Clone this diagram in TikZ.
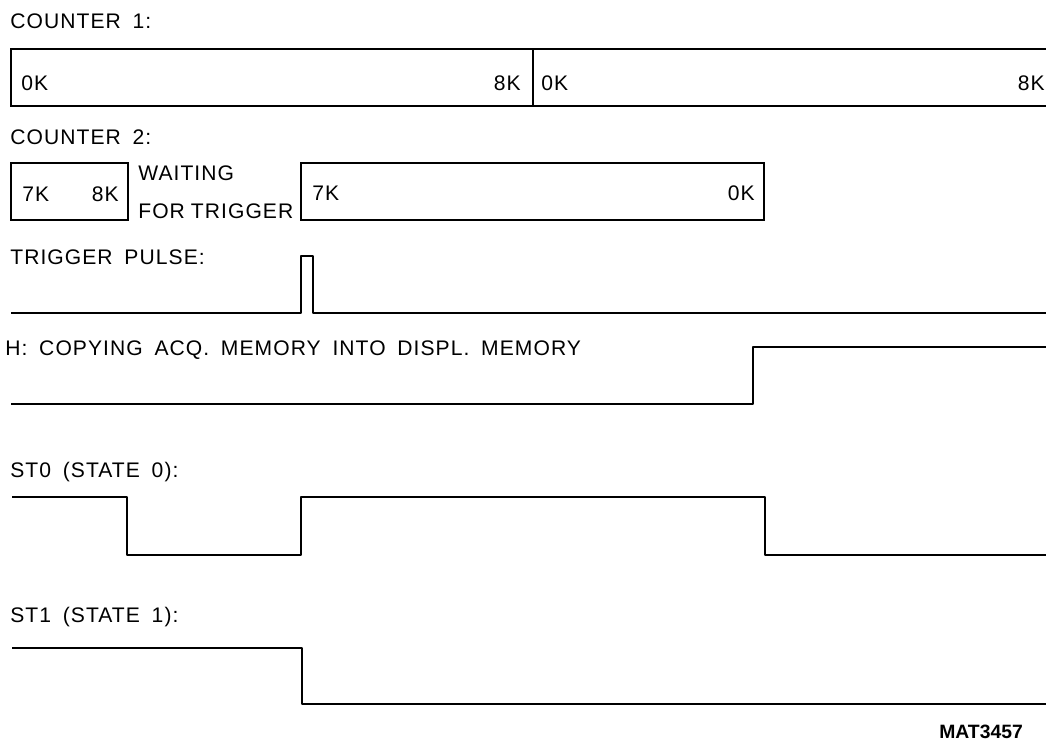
\documentclass[tikz,border=0pt]{standalone}
\usepackage{fontspec}
\setmainfont{Liberation Sans}[LetterSpace=5, WordSpace=1.7]
\usetikzlibrary{positioning}

\begin{document}
\begin{tikzpicture}[
  x=0.02cm, y=-0.02cm,
  lbl/.style={anchor=west, inner sep=0pt, font=\fontsize{12}{14}\selectfont},
  rlbl/.style={lbl, anchor=east},
  sig/.style={line width=1.4pt, line join=round},
  cbox/.style={line width=1.4pt}
]
\useasboundingbox (0,0) rectangle (1046,740);

% counter 1
\node[lbl] (c1lbl) at (10,21) {COUNTER 1:};
\draw[cbox] (1050,49) -| (11,106) -- (1050,106);
\draw[cbox] (533,49) -- (533,106);
\node[lbl]  (c1a) at (21,83)   {0K};
\node[rlbl] (c1b) at (521,83)  {8K};
\node[lbl]  (c1c) at (541,83)  {0K};
\node[rlbl] (c1d) at (1045,83) {8K};

% counter 2
\node[lbl] (c2lbl) at (10,137) {COUNTER 2:};
\draw[cbox] (11,163) rectangle (128,220);
\node[lbl]  (c2a) at (22,194)  {7K};
\node[rlbl] (c2b) at (119,194) {8K};
\node[lbl] (wait1) at (138,173) {WAITING};
\node[lbl] (wait2) at (138,211) {FOR\hspace{3.4pt}TRIGGER};
\draw[cbox] (301,163) rectangle (764,220);
\node[lbl]  (c2c) at (312,193) {7K};
\node[rlbl] (c2d) at (755,193) {0K};

% trigger pulse
\node[lbl] (trglbl) at (10,257) {TRIGGER PULSE:};
\draw[sig] (11,313) -- (301,313) -- (301,256) -- (313,256) -- (313,313) -- (1050,313);

% copy flag
\node[lbl] (hlbl) at (5,350) {H: COPYING ACQ. MEMORY INTO DISPL. MEMORY};
\draw[sig] (11,404) -- (753,404) -- (753,347) -- (1050,347);

% state 0
\node[lbl] (st0lbl) at (10,472) {ST0 (STATE 0):};
\draw[sig] (12,497) -- (127,497) -- (127,555) -- (301,555) -- (301,497)
  -- (765,497) -- (765,555) -- (1050,555);

% state 1
\node[lbl] (st1lbl) at (10,617) {ST1 (STATE 1):};
\draw[sig] (12,648) -- (302,648) -- (302,704) -- (1050,704);

\node[lbl, font=\fontsize{11}{13}\selectfont\bfseries\addfontfeature{LetterSpace=0}] (ref) at (939,732) {MAT3457};

\end{tikzpicture}
\end{document}
